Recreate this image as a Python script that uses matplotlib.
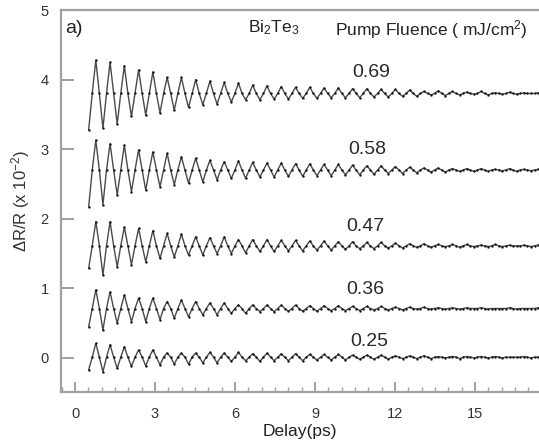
import numpy as np
import matplotlib
matplotlib.use('Agg')
import matplotlib.pyplot as plt
from matplotlib.ticker import MultipleLocator

plt.rcParams['font.family'] = ['Liberation Sans', 'DejaVu Sans']
plt.rcParams['mathtext.fontset'] = 'custom'
plt.rcParams['mathtext.rm'] = 'Liberation Sans'
plt.rcParams['mathtext.it'] = 'Liberation Sans:italic'
plt.rcParams['mathtext.bf'] = 'Liberation Sans:bold'

# ---------------- data ----------------
fluences = ['0.69', '0.58', '0.47', '0.36', '0.25']
baselines = [3.80, 2.70, 1.61, 0.71, 0.01]

# sampling of extrema (delay of first point, half oscillation period), ps
first_sample_ps = 0.5125
half_period_ps = 0.2675

# troughs (first value = first data point), peaks
troughs_069 = [3.28, 3.30, 3.36, 3.47, 3.49, 3.52, 3.56, 3.60, 3.64, 3.65, 3.68, 3.71,
               3.71, 3.72, 3.72, 3.73, 3.73, 3.74, 3.74, 3.74, 3.75, 3.75, 3.76, 3.76,
               3.78, 3.77, 3.78, 3.79, 3.78, 3.79, 3.79, 3.80]
peaks_069 = [4.28, 4.25, 4.20, 4.14, 4.11, 4.03, 4.03, 4.00, 3.98, 3.96, 3.95, 3.92,
             3.91, 3.90, 3.89, 3.89, 3.88, 3.88, 3.87, 3.87, 3.86, 3.86, 3.85, 3.83,
             3.84, 3.83, 3.82, 3.83, 3.81, 3.82, 3.81, 3.81]

troughs_058 = [2.17, 2.20, 2.34, 2.39, 2.41, 2.46, 2.49, 2.51, 2.53, 2.56, 2.58, 2.58,
               2.60, 2.60, 2.61, 2.61, 2.62, 2.62, 2.63, 2.63, 2.64, 2.65, 2.65, 2.66,
               2.67, 2.67, 2.68, 2.68, 2.68, 2.69, 2.68, 2.69]
peaks_058 = [3.13, 3.08, 3.06, 2.99, 2.96, 2.94, 2.89, 2.87, 2.84, 2.82, 2.83, 2.81,
             2.80, 2.80, 2.79, 2.79, 2.78, 2.78, 2.77, 2.76, 2.76, 2.75, 2.74, 2.73,
             2.73, 2.72, 2.72, 2.72, 2.71, 2.72, 2.71, 2.71]

troughs_047 = [1.29, 1.19, 1.31, 1.34, 1.38, 1.43, 1.45, 1.48, 1.48, 1.50, 1.50, 1.51,
               1.53, 1.53, 1.54, 1.54, 1.55, 1.55, 1.56, 1.57, 1.57, 1.58, 1.58, 1.59,
               1.59, 1.60, 1.59, 1.60, 1.60, 1.60, 1.61, 1.60]
peaks_047 = [1.96, 1.96, 1.88, 1.86, 1.83, 1.79, 1.78, 1.74, 1.73, 1.74, 1.70, 1.70,
             1.70, 1.69, 1.69, 1.68, 1.68, 1.67, 1.67, 1.66, 1.66, 1.65, 1.64, 1.64,
             1.63, 1.63, 1.63, 1.62, 1.63, 1.62, 1.62, 1.62]

troughs_036 = [0.45, 0.40, 0.50, 0.52, 0.52, 0.55, 0.57, 0.59, 0.62, 0.62, 0.64, 0.64,
               0.665, 0.665, 0.67, 0.67, 0.67, 0.68, 0.68, 0.68, 0.69, 0.69, 0.69, 0.70,
               0.70, 0.70, 0.70, 0.71, 0.70, 0.71, 0.70, 0.71]
peaks_036 = [0.98, 0.95, 0.905, 0.86, 0.86, 0.81, 0.83, 0.81, 0.79, 0.79, 0.76, 0.76,
             0.76, 0.76, 0.76, 0.75, 0.75, 0.75, 0.74, 0.74, 0.74, 0.73, 0.73, 0.73,
             0.72, 0.72, 0.72, 0.72, 0.71, 0.72, 0.71, 0.72]

troughs_025 = [-0.17, -0.20, -0.15, -0.12, -0.115, -0.10, -0.09, -0.09, -0.07, -0.07,
               -0.05, -0.04, -0.05, -0.04, -0.04, -0.04, -0.03, -0.03, -0.03, -0.02,
               -0.02, -0.02, -0.01, -0.01, -0.01, 0.00, -0.01, 0.00, 0.00, 0.00, 0.01, 0.00]
peaks_025 = [0.21, 0.19, 0.16, 0.115, 0.115, 0.07, 0.07, 0.07, 0.08, 0.07, 0.08, 0.06,
             0.07, 0.06, 0.06, 0.05, 0.05, 0.05, 0.04, 0.04, 0.04, 0.03, 0.03, 0.03,
             0.02, 0.02, 0.02, 0.02, 0.02, 0.01, 0.02, 0.01]

troughs_all = [troughs_069, troughs_058, troughs_047, troughs_036, troughs_025]
peaks_all = [peaks_069, peaks_058, peaks_047, peaks_036, peaks_025]

# label placement (delay, value)
label_x = [11.12, 10.95, 10.89, 10.89, 11.04]
label_y = [4.10, 2.99, 1.89, 0.98, 0.23]

# ---------------- figure ----------------
W, H = 539, 442
fig = plt.figure(figsize=(W / 100, H / 100), dpi=100)
ax = fig.add_axes([61 / W, 50 / H, (W - 61) / W, 382 / H])

for tr, pk, base in zip(troughs_all, peaks_all, baselines):
    ext = []
    for a, b in zip(tr, pk):
        ext += [a, b]
    vals = []
    for i, e in enumerate(ext):
        vals.append(e)
        if i < len(ext) - 1:
            vals.append(base)
    vals.append(base)
    t = first_sample_ps + 0.5 * half_period_ps * np.arange(len(vals))
    ax.plot(t, vals, color='#4a4a4a', lw=1.0, zorder=2, solid_joinstyle='round')
    ax.plot(t, vals, ls='none', marker='o', ms=1.7, mfc='#111111', mec='#111111',
            mew=0, zorder=3)

for lab, lx, ly in zip(fluences, label_x, label_y):
    ax.text(lx, ly, lab, ha='center', va='center', fontsize=14, color='#2a2a2a')

ax.set_xlim(-0.525, 17.4)
ax.set_ylim(-0.49, 5.0)
ax.xaxis.set_major_locator(MultipleLocator(3))
ax.xaxis.set_minor_locator(MultipleLocator(0.5))
ax.set_yticks([0, 1, 2, 3, 4, 5])

spine_c = '#a0a0a0'
for s in ['left', 'bottom', 'top']:
    ax.spines[s].set_color(spine_c)
    ax.spines[s].set_linewidth(1.6)
ax.spines['right'].set_visible(False)

ax.tick_params(axis='x', which='major', direction='in', length=7, width=1.4,
               color=spine_c, labelsize=10.5, labelcolor='#333333', pad=11)
ax.tick_params(axis='x', which='minor', direction='in', length=3.5, width=1.0,
               color=spine_c)
ax.tick_params(axis='y', which='major', direction='in', length=9, width=1.4,
               color=spine_c, labelsize=10.5, labelcolor='#333333', pad=9)
ax.tick_params(top=False, right=False, which='both')

ax.set_xlabel('Delay(ps)', fontsize=12.5, color='#222222', labelpad=2)
ax.set_ylabel('ΔR/R (x 10$^{-2}$)', fontsize=12, color='#333333', labelpad=6)

ax.text(-0.375, 4.67, 'a)', fontsize=14, color='#222222', va='baseline')
ax.text(6.49, 4.68, r'Bi$_{2}$Te$_{3}$', fontsize=12.5, color='#222222', va='baseline')
ax.text(9.75, 4.64, 'Pump Fluence ( mJ/cm$^{2}$)', fontsize=12.5, color='#222222',
        va='baseline')

fig.savefig('out.png', dpi=100)
